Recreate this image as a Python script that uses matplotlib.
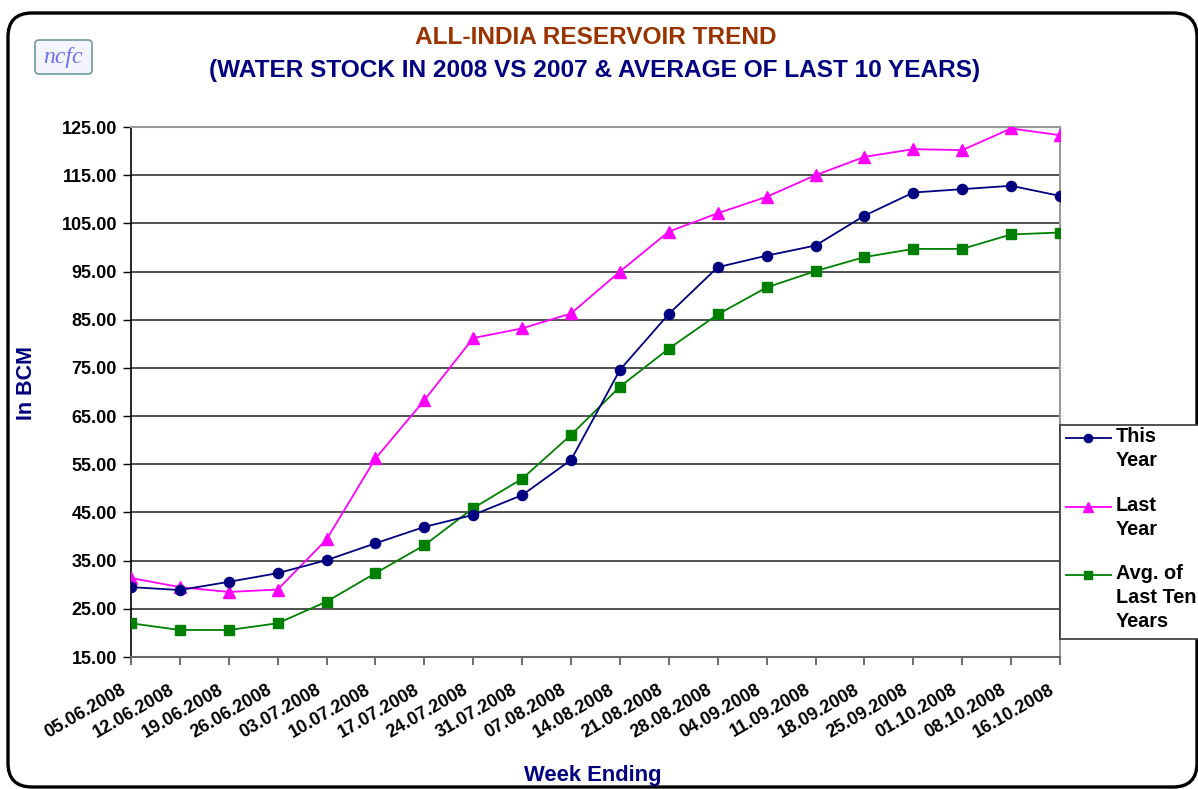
import matplotlib
matplotlib.use("Agg")
import matplotlib.pyplot as plt
import matplotlib.transforms as mtransforms
from matplotlib.patches import FancyBboxPatch, Rectangle
from matplotlib.lines import Line2D

plt.rcParams['font.family'] = ['Liberation Sans', 'DejaVu Sans']

weeks = ["05.06.2008", "12.06.2008", "19.06.2008", "26.06.2008", "03.07.2008",
         "10.07.2008", "17.07.2008", "24.07.2008", "31.07.2008", "07.08.2008",
         "14.08.2008", "21.08.2008", "28.08.2008", "04.09.2008", "11.09.2008",
         "18.09.2008", "25.09.2008", "01.10.2008", "08.10.2008", "16.10.2008"]
this_year = [29.5, 28.9, 30.6, 32.4, 35.1, 38.6, 42.0, 44.5, 48.6, 55.9,
             74.6, 86.2, 95.9, 98.3, 100.4, 106.6, 111.4, 112.1, 112.8, 110.7]
last_year = [31.4, 29.5, 28.5, 29.0, 39.4, 56.2, 68.3, 81.2, 83.2, 86.3,
             95.0, 103.3, 107.1, 110.5, 115.0, 118.8, 120.4, 120.2, 124.7, 123.3]
avg_10yr = [22.0, 20.6, 20.6, 22.0, 26.5, 32.4, 38.2, 45.9, 52.0, 61.1,
            71.1, 79.0, 86.1, 91.7, 95.1, 98.0, 99.7, 99.7, 102.7, 103.1]
y_ticks = [15, 25, 35, 45, 55, 65, 75, 85, 95, 105, 115, 125]
series_labels = ["This\nYear", "Last\nYear", "Avg. of\nLast Ten\nYears"]

W, H = 1198, 789
fig = plt.figure(figsize=(W / 100, H / 100), dpi=100)

def fx(px):
    return px / W

def fy(py):
    return 1 - py / H

ax = fig.add_axes([fx(131), fy(657), fx(1060) - fx(131), fy(127) - fy(657)])
x = list(range(len(weeks)))

navy = '#000080'
magenta = '#FF00FF'
green = '#008000'

ax.plot(x, this_year, color=navy, lw=1.3, marker='o', ms=7.3, zorder=5)
ax.plot(x, last_year, color=magenta, lw=1.3, marker='^', ms=8.8, zorder=4)
ax.plot(x, avg_10yr, color=green, lw=1.3, marker='s', ms=6.8, zorder=3)

ax.set_xlim(0, len(weeks) - 1)
ax.set_ylim(15, 125)
ax.set_yticks(y_ticks)
ax.set_yticklabels([f"{v:.2f}" for v in y_ticks], fontsize=13, fontweight='bold')
ax.set_xticks(x)
ax.set_xticklabels([])
for i, lab in zip(x, weeks):
    ax.annotate(lab, xy=(i, 0), xycoords=('data', 'axes fraction'),
                xytext=(-11, -24), textcoords='offset pixels',
                rotation=30, rotation_mode='anchor', ha='right', va='top',
                fontsize=13, fontweight='bold', annotation_clip=False)

ax.yaxis.grid(True, color='#333333', lw=1.2)
ax.set_axisbelow(True)
ax.tick_params(axis='y', length=6, width=1, color='black', pad=4)
ax.tick_params(axis='x', length=6, width=1.2, color='#555555', pad=6)
for s in ['top', 'right']:
    ax.spines[s].set_color('#999999')
    ax.spines[s].set_linewidth(1.5)
ax.spines['left'].set_color('black')
ax.spines['left'].set_linewidth(1.2)
ax.spines['bottom'].set_color('#666666')
ax.spines['bottom'].set_linewidth(1.5)

# titles
fig.text(fx(596), fy(38), "ALL-INDIA RESERVOIR TREND", color='#993300',
         fontsize=17.6, fontweight='bold', ha='center', va='center')
fig.text(fx(595), fy(70), "(WATER STOCK IN 2008 VS 2007 & AVERAGE OF LAST 10 YEARS)",
         color=navy, fontsize=17.6, fontweight='bold', ha='center', va='center')
fig.text(fx(26), fy(383), "In BCM", color=navy, fontsize=15.5, fontweight='bold',
         rotation=90, ha='center', va='center')
fig.text(fx(593), fy(775), "Week Ending", color=navy, fontsize=15.8, fontweight='bold',
         ha='center', va='center')

# outer rounded frame (pixel coordinates)
pix = mtransforms.IdentityTransform()
frame = FancyBboxPatch((8, H - 787), 1197 - 8, 787 - 13,
                       boxstyle="round,pad=0,rounding_size=24",
                       transform=pix, fill=False, ec='black', lw=2.4)
fig.add_artist(frame)

# ncfc logo
logo = FancyBboxPatch((35, H - 74), 57, 34,
                      boxstyle="round,pad=0,rounding_size=4",
                      transform=pix, fc='#f4f4ff', ec='#6f9a9a', lw=1.2)
fig.add_artist(logo)
fig.text(fx(63), fy(57), "ncfc", family=['Liberation Serif', 'DejaVu Serif'],
         style='italic', color='#7070ee', fontsize=17, ha='center', va='center')

# legend (manual)
fig.add_artist(Rectangle((fx(1060), fy(639)), fx(1200) - fx(1060), fy(425) - fy(639),
                         transform=fig.transFigure, fill=True, fc='white',
                         ec='#333333', lw=1.2, zorder=6))
styles = [(navy, 'o', 7), (magenta, '^', 8.5), (green, 's', 6.5)]
first_line_y = [438, 507, 575]
for (c, m, ms), lab, ly in zip(styles, series_labels, first_line_y):
    fig.add_artist(Line2D([fx(1066), fx(1111)], [fy(ly), fy(ly)], color=c, lw=1.3,
                          transform=fig.transFigure, zorder=7))
    fig.add_artist(Line2D([fx(1088)], [fy(ly)], color=c, marker=m, ms=ms * 0.85,
                          transform=fig.transFigure, zorder=7))
    fig.text(fx(1116), fy(ly - 11), lab, fontsize=14.3, fontweight='bold',
             ha='left', va='top', linespacing=1.33, zorder=8)

fig.savefig("out.png", dpi=100)
